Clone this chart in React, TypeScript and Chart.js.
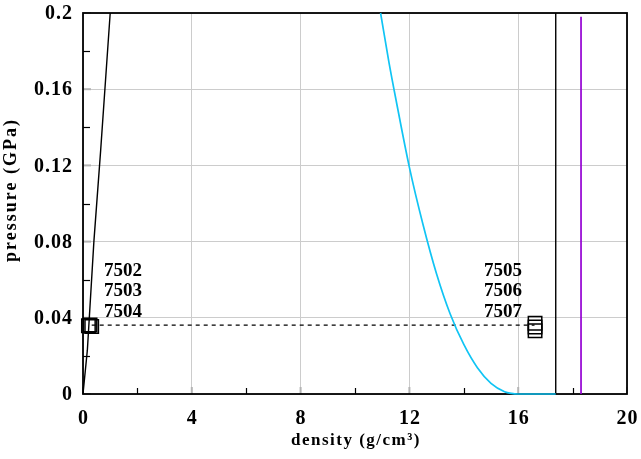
import React, { useEffect, useRef } from 'react';
import { Chart, registerables } from 'chart.js';

Chart.register(...registerables);

const xTickValues = [0, 4, 8, 12, 16, 20];
const xTickLabels = ['0', '4', '8', '12', '16', '20'];
const yTickValues = [0, 0.04, 0.08, 0.12, 0.16, 0.2];
const yTickLabels = ['0', '0.04', '0.08', '0.12', '0.16', '0.2'];
const xMinorTicks = [2, 6, 10, 14, 18];
const yMinorTicks = [0.02, 0.06, 0.1, 0.14, 0.18];

const xTitle = 'density (g/cm³)';
const yTitle = 'pressure (GPa)';

const steepDensity = [0, 0.16, 0.4, 0.65, 1.0];
const steepPressure = [0, 0.023, 0.08, 0.128, 0.2];

const cyanDensity = [10.94, 11.25, 11.5, 12, 12.5, 13, 13.5, 14, 14.5, 15, 15.5, 15.75, 16, 17.38];
const cyanPressure = [0.2, 0.174, 0.155, 0.119, 0.089, 0.063, 0.042, 0.026, 0.0138, 0.0056, 0.0012, 0.0003, 0, 0];

const blackVertDensity = [17.38, 17.38];
const blackVertPressure = [0, 0.2];

const purpleDensity = [18.31, 18.31];
const purplePressure = [0, 0.198];

const dashedDensity = [0.32, 16.6];
const dashedPressure = [0.0362, 0.0362];

const leftMarkerDensity = [0.2, 0.26, 0.32];
const leftMarkerPressure = [0.0358, 0.0362, 0.0354];
const leftLabels = ['7502', '7503', '7504'];

const rightMarkerDensity = [16.62, 16.62, 16.62];
const rightMarkerPressure = [0.0371, 0.0352, 0.0332];
const rightLabels = ['7505', '7506', '7507'];

const FONT = "'Liberation Serif', 'Times New Roman', serif";

const zip = (xs: number[], ys: number[]) => xs.map((x, i) => ({ x, y: ys[i] }));

const framePlugin = {
  id: 'frame',
  beforeDatasetsDraw(chart: any) {
    const { ctx, chartArea, scales } = chart;
    const { left, right, top, bottom } = chartArea;
    const x = scales.x;
    const y = scales.y;
    ctx.save();
    ctx.strokeStyle = '#b4b4b4';
    ctx.lineWidth = 2;
    xTickValues.forEach((v) => {
      const px = x.getPixelForValue(v);
      ctx.beginPath();
      ctx.moveTo(px, bottom);
      ctx.lineTo(px, bottom - 7);
      ctx.stroke();
    });
    yTickValues.forEach((v) => {
      const py = y.getPixelForValue(v);
      ctx.beginPath();
      ctx.moveTo(left, py);
      ctx.lineTo(left + 8, py);
      ctx.stroke();
    });
    ctx.strokeStyle = '#000';
    ctx.lineWidth = 1.2;
    xMinorTicks.forEach((v) => {
      const px = Math.round(x.getPixelForValue(v)) + 0.5;
      ctx.beginPath();
      ctx.moveTo(px, bottom);
      ctx.lineTo(px, bottom - 6);
      ctx.stroke();
    });
    yMinorTicks.forEach((v) => {
      const py = Math.round(y.getPixelForValue(v)) + 0.5;
      ctx.beginPath();
      ctx.moveTo(left, py);
      ctx.lineTo(left + 7, py);
      ctx.stroke();
    });
    ctx.lineWidth = 1.8;
    ctx.strokeRect(left, top, right - left, bottom - top);
    ctx.restore();
  },
  afterDraw(chart: any) {
    const { ctx, chartArea, scales } = chart;
    const { left, right, bottom } = chartArea;
    const x = scales.x;
    const y = scales.y;
    ctx.save();
    ctx.fillStyle = '#000';
    // tick labels
    ctx.font = `bold 20px ${FONT}`;
    (ctx as any).letterSpacing = '1px';
    ctx.textAlign = 'center';
    ctx.textBaseline = 'middle';
    xTickValues.forEach((v, i) => {
      ctx.fillText(xTickLabels[i], x.getPixelForValue(v) + 0.5, bottom + 25);
    });
    ctx.textAlign = 'right';
    yTickValues.forEach((v, i) => {
      ctx.fillText(yTickLabels[i], left - 10, y.getPixelForValue(v) + 1);
    });
    // axis titles
    ctx.font = `bold 17px ${FONT}`;
    (ctx as any).letterSpacing = '1.5px';
    ctx.textAlign = 'center';
    ctx.fillText(xTitle, (left + right) / 2 + 1, bottom + 47);
    ctx.save();
    ctx.font = `bold 18px ${FONT}`;
    (ctx as any).letterSpacing = '2px';
    ctx.translate(11, 191);
    ctx.rotate(-Math.PI / 2);
    ctx.fillText(yTitle, 1, 0);
    ctx.restore();
    // point labels
    ctx.font = `bold 19px ${FONT}`;
    (ctx as any).letterSpacing = '0px';
    ctx.textBaseline = 'alphabetic';
    const lx = x.getPixelForValue(leftMarkerDensity[1]);
    const ly = y.getPixelForValue(leftMarkerPressure[1]);
    ctx.textAlign = 'left';
    leftLabels.forEach((t, i) => {
      ctx.fillText(t, lx + 14, ly - 8.5 - (leftLabels.length - 1 - i) * 20.5);
    });
    const rx = x.getPixelForValue(rightMarkerDensity[1]);
    const ry = y.getPixelForValue(rightMarkerPressure[1]);
    ctx.textAlign = 'right';
    rightLabels.forEach((t, i) => {
      ctx.fillText(t, rx - 13, ry - 10 - (rightLabels.length - 1 - i) * 20.5);
    });
    ctx.restore();
  },
};

export default function App() {
  const ref = useRef<HTMLCanvasElement>(null);
  useEffect(() => {
    if (!ref.current) return;
    const lineDs = (data: any[], color: string, width: number, extra: any = {}) => ({
      data,
      borderColor: color,
      backgroundColor: color,
      borderWidth: width,
      pointRadius: 0,
      showLine: true,
      fill: false,
      clip: false,
      ...extra,
    });
    const chart = new Chart(ref.current, {
      type: 'scatter',
      data: {
        datasets: [
          lineDs(zip(steepDensity, steepPressure), '#000', 1.4),
          lineDs(zip(cyanDensity, cyanPressure), '#10c4f4', 1.7, { cubicInterpolationMode: 'monotone' }),
          lineDs(zip(blackVertDensity, blackVertPressure), '#000', 1.4),
          lineDs(zip(purpleDensity, purplePressure), '#9400d3', 1.7),
          lineDs(zip(dashedDensity, dashedPressure), '#000', 1.3, { borderDash: [4, 4] }),
          {
            data: zip(leftMarkerDensity, leftMarkerPressure),
            showLine: false,
            pointStyle: 'rect',
            pointRadius: 9.5,
            borderColor: '#000',
            backgroundColor: 'rgba(0,0,0,0)',
            borderWidth: 1.5,
            clip: false,
          },
          {
            data: zip(rightMarkerDensity, rightMarkerPressure),
            showLine: false,
            pointStyle: 'rect',
            pointRadius: 9.5,
            borderColor: '#000',
            backgroundColor: 'rgba(0,0,0,0)',
            borderWidth: 1.5,
            clip: false,
          },
        ],
      },
      options: {
        animation: false,
        responsive: false,
        events: [],
        layout: { padding: { top: 13, right: 14, left: 0, bottom: 0 } },
        plugins: { legend: { display: false }, tooltip: { enabled: false } },
        scales: {
          x: {
            type: 'linear',
            min: 0,
            max: 20,
            ticks: { stepSize: 4, display: false },
            grid: { color: '#cccccc', lineWidth: 1, drawTicks: false },
            border: { display: false },
            afterFit: (s: any) => {
              s.height = 65;
            },
          },
          y: {
            type: 'linear',
            min: 0,
            max: 0.2,
            ticks: { stepSize: 0.04, display: false },
            grid: { color: '#cccccc', lineWidth: 1, drawTicks: false },
            border: { display: false },
            afterFit: (s: any) => {
              s.width = 83;
            },
          },
        },
      } as any,
      plugins: [framePlugin],
    });
    return () => chart.destroy();
  }, []);
  return (
    <div style={{ position: 'absolute', left: 0, top: 0, width: 641, height: 459, background: '#fff' }}>
      <canvas ref={ref} width={641} height={459} style={{ display: 'block' }} />
    </div>
  );
}
